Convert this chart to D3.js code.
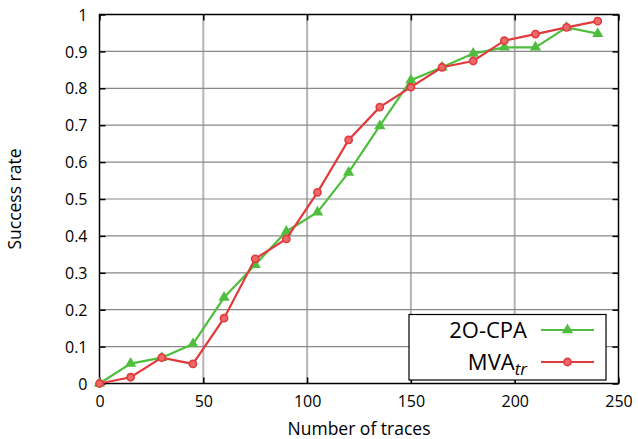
<!DOCTYPE html>
<html><head><meta charset="utf-8">
<script src="https://cdn.jsdelivr.net/npm/d3@7"></script>
<style>body{margin:0;background:#fff}svg{display:block}text{font-family:"Open Sans",sans-serif}</style>
</head><body><svg id="c" width="638" height="439"></svg>
<script>
const traces = [0,15,30,45,60,75,90,105,120,135,150,165,180,195,210,225,240];
const cpa = [0,0.054,0.07,0.107,0.233,0.322,0.412,0.464,0.572,0.698,0.822,0.857,0.894,0.911,0.911,0.965,0.948];
const mva = [0,0.017,0.07,0.053,0.177,0.338,0.392,0.518,0.66,0.749,0.803,0.857,0.874,0.929,0.947,0.965,0.982];
const xTicks = [0,50,100,150,200,250];
const yTicks = [0,0.1,0.2,0.3,0.4,0.5,0.6,0.7,0.8,0.9,1];
const yTickLabels = ["0","0.1","0.2","0.3","0.4","0.5","0.6","0.7","0.8","0.9","1"];

const svg = d3.select("#c");
const L=99.5, R=618.5, T=14.5, B=383.5;
const x = d3.scaleLinear().domain([0,250]).range([L,R]);
const y = d3.scaleLinear().domain([0,1]).range([B,T]);

// grid
svg.append("g").selectAll("line").data(xTicks.slice(1,-1)).join("line")
  .attr("x1",d=>x(d)).attr("x2",d=>x(d)).attr("y1",T).attr("y2",B)
  .attr("stroke","#b4b4b4").attr("stroke-width",2);
svg.append("g").selectAll("line").data(yTicks.slice(1,-1)).join("line")
  .attr("x1",L).attr("x2",R).attr("y1",d=>y(d)).attr("y2",d=>y(d))
  .attr("stroke","#888").attr("stroke-width",1.2);

// axes
const ax = svg.append("g").attr("transform",`translate(0,${B})`)
  .call(d3.axisBottom(x).tickValues(xTicks).tickSize(-6).tickPadding(12));
const ay = svg.append("g").attr("transform",`translate(${L},0)`)
  .call(d3.axisLeft(y).tickValues(yTicks).tickFormat((d,i)=>yTickLabels[i]).tickSize(-6).tickPadding(12));
svg.append("g").attr("transform",`translate(0,${T})`)
  .call(d3.axisTop(x).tickValues(xTicks).tickSize(-6).tickFormat(""));
svg.append("g").attr("transform",`translate(${R},0)`)
  .call(d3.axisRight(y).tickValues(yTicks).tickSize(-6).tickFormat(""));
svg.selectAll(".domain").remove();
svg.selectAll(".tick line").attr("stroke","#000").attr("stroke-width",1.5);
svg.selectAll(".tick text").attr("font-size",16).attr("fill","#000").attr("font-family","'Open Sans',sans-serif");
ay.selectAll(".tick text").attr("dy","0.35em");
svg.append("rect").attr("x",L).attr("y",T).attr("width",R-L).attr("height",B-T)
  .attr("fill","none").attr("stroke","#000").attr("stroke-width",1.5);

// labels
svg.append("text").attr("x",(L+R)/2).attr("y",435).attr("text-anchor","middle")
  .attr("font-size",17.5).text("Number of traces");
svg.append("text").attr("transform",`translate(21,${(T+B)/2}) rotate(-90)`).attr("text-anchor","middle")
  .attr("font-size",17.5).text("Success rate");

const green="#4fbe3f", red="#e03a3c";
const line = d3.line().x(d=>x(d[0])).y(d=>y(d[1]));
const dCpa = traces.map((t,i)=>[t,cpa[i]]);
const dMva = traces.map((t,i)=>[t,mva[i]]);
const tri = d3.symbol().type(d3.symbolTriangle).size(55);

svg.append("path").datum(dCpa).attr("d",line).attr("fill","none").attr("stroke",green).attr("stroke-width",2.2);
svg.append("g").selectAll("path").data(dCpa).join("path").attr("d",tri)
  .attr("transform",d=>`translate(${x(d[0])},${y(d[1])})`).attr("fill",green);
svg.append("path").datum(dMva).attr("d",line).attr("fill","none").attr("stroke",red).attr("stroke-width",2.2);
svg.append("g").selectAll("circle").data(dMva).join("circle")
  .attr("cx",d=>x(d[0])).attr("cy",d=>y(d[1])).attr("r",3.6)
  .attr("fill","#ec6a6a").attr("stroke",red).attr("stroke-width",1.6);

// legend
const lg = svg.append("g");
lg.append("rect").attr("x",409).attr("y",314.5).attr("width",197).attr("height",65.5)
  .attr("fill","#fff").attr("stroke","#000").attr("stroke-width",1.2);
lg.append("text").attr("x",527).attr("y",338).attr("text-anchor","end").attr("font-size",22).text("2O-CPA");
const t2 = lg.append("text").attr("x",527).attr("y",370).attr("text-anchor","end").attr("font-size",22);
t2.append("tspan").text("MVA");
t2.append("tspan").attr("font-size",17).attr("font-style","italic").attr("dy",5).text("tr");
lg.append("line").attr("x1",541).attr("x2",594).attr("y1",330).attr("y2",330).attr("stroke",green).attr("stroke-width",2.2);
lg.append("path").attr("d",tri).attr("transform","translate(567.5,330)").attr("fill",green);
lg.append("line").attr("x1",541).attr("x2",594).attr("y1",362).attr("y2",362).attr("stroke",red).attr("stroke-width",2.2);
lg.append("circle").attr("cx",567.5).attr("cy",362).attr("r",3.6).attr("fill","#ec6a6a").attr("stroke",red).attr("stroke-width",1.6);
</script></body></html>
